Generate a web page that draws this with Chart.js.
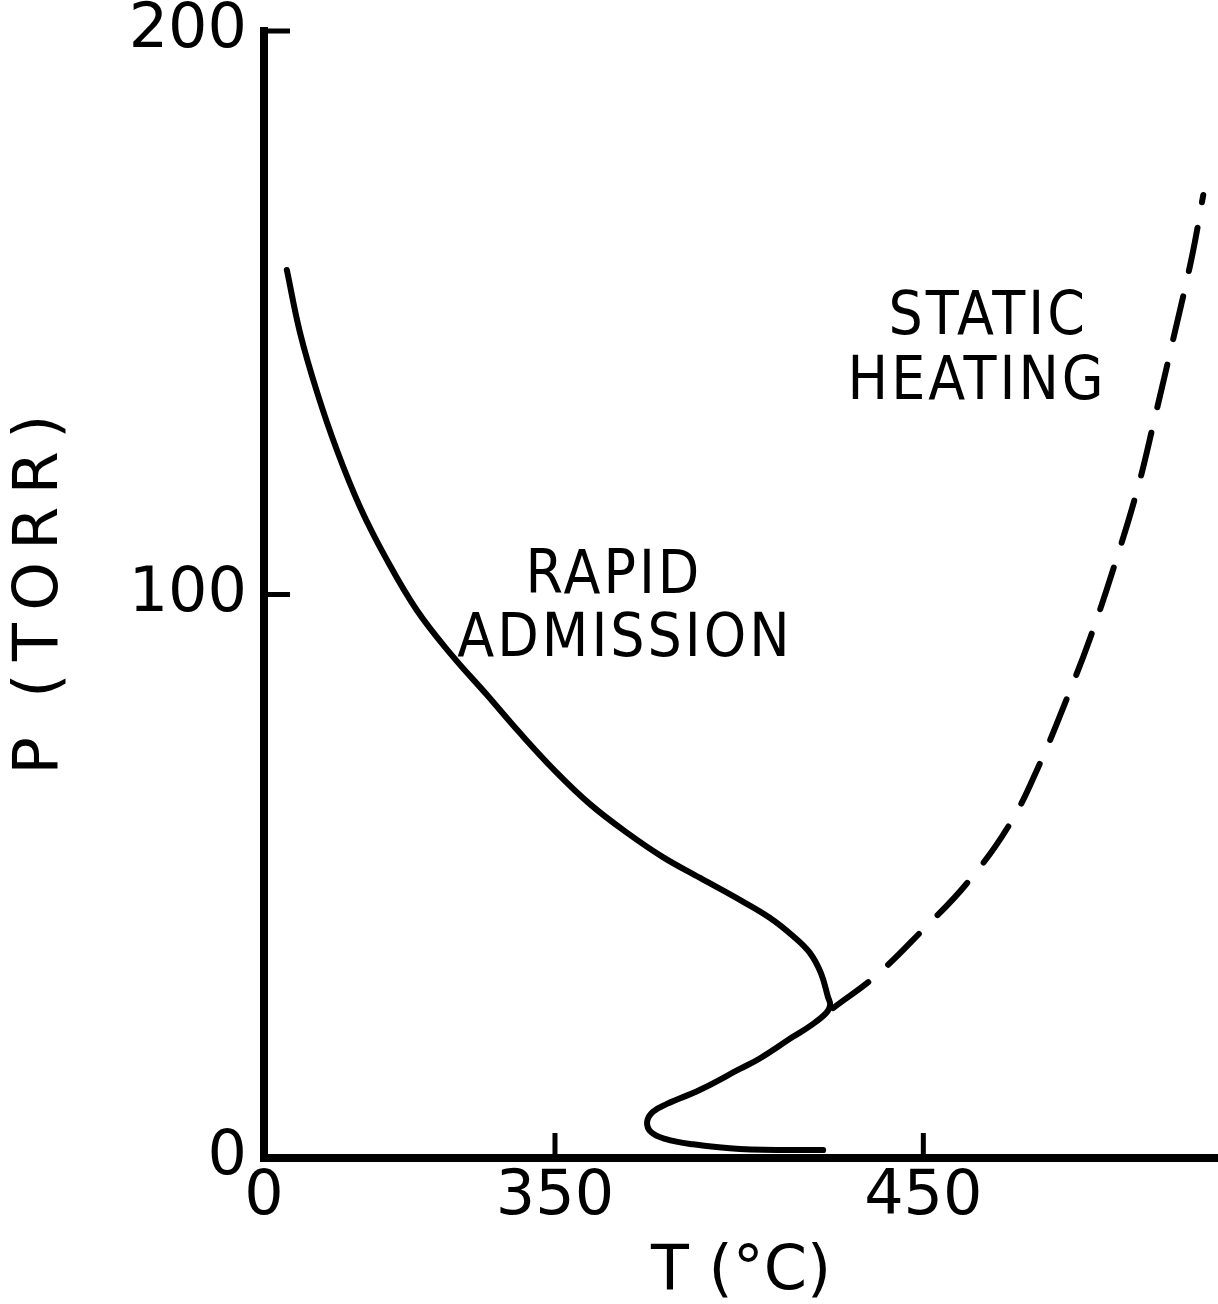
<!DOCTYPE html>
<html>
<head>
<meta charset="utf-8">
<script src="https://cdn.jsdelivr.net/npm/chart.js@4.4.1/dist/chart.umd.min.js"></script>
<style>
  html, body { margin: 0; padding: 0; background: #fff; }
</style>
</head>
<body>
<canvas id="chartCanvas" width="1218" height="1304"></canvas>
<script>
// Rapid admission curve (T in deg C, P in torr)
const rapidT = [277.2, 280.8, 285.4, 290.8, 297.1, 304.4, 312.5, 321.5, 331.5, 340.5,
    350.0, 359.5, 369.6, 379.3, 389.4, 400.2, 408.4, 414.6, 419.2, 422.2,
    424.1, 424.7, 423.6, 419.2, 414.6, 405.7, 400.2, 389.4, 380.4, 376.6,
    375.0, 376.1, 379.9, 386.7, 400.2, 422.8];
const rapidP = [157.6, 146.4, 135.9, 125.6, 115.5, 106.1, 97.2, 89.6, 82.2, 75.4,
    68.7, 62.8, 57.7, 53.4, 49.7, 45.8, 42.6, 39.4, 36.4, 32.8,
    28.6, 27.2, 25.7, 23.4, 21.5, 17.7, 15.8, 12.1, 9.6, 8.2,
    6.4, 4.6, 3.4, 2.5, 1.6, 1.4];

// Static heating curve (dashed)
const staticT = [425.5, 437.4, 449.9, 461.9, 473.6, 481.7, 489.0, 495.3, 502.1,
    508.3, 512.9, 517.8, 523.0, 526.0];
const staticP = [26.6, 32.5, 40.5, 48.8, 59.4, 70.1, 81.6, 92.3, 105.6,
    119.1, 131.5, 145.2, 160.2, 170.9];

// Axis ticks (x axis is broken: origin is labelled 0)
const xBreak = 271;
const xTickValues = [350, 450];
const yTickValues = [0, 100, 200];

function toPoints(xs, ys) {
    return xs.map((x, i) => ({ x: x, y: ys[i] }));
}

const tickFont = { family: 'DejaVu Sans', size: 62, lineHeight: 0.9 };

const axisPlugin = {
    id: 'axisPlugin',
    afterDatasetsDraw(chart) {
        const ctx = chart.ctx;
        const xs = chart.scales.x;
        const ys = chart.scales.y;
        const notes = [
            { text: 'RAPID', x: 366, y: 103.1 },
            { text: 'ADMISSION', x: 369, y: 91.9 },
            { text: 'STATIC', x: 467.6, y: 149 },
            { text: 'HEATING', x: 464.6, y: 137.4 }
        ];
        ctx.save();
        ctx.fillStyle = '#000';
        ctx.font = '60px "DejaVu Sans Condensed", "DejaVu Sans"';
        ctx.letterSpacing = '3px';
        ctx.textAlign = 'center';
        ctx.textBaseline = 'middle';
        notes.forEach(n => {
            ctx.fillText(n.text, xs.getPixelForValue(n.x), ys.getPixelForValue(n.y));
        });
        ctx.restore();
    },
    afterDraw(chart) {
        const ctx = chart.ctx;
        const area = chart.chartArea;
        const xs = chart.scales.x;
        const ys = chart.scales.y;
        ctx.save();
        ctx.strokeStyle = '#000';
        ctx.lineWidth = 8;
        ctx.lineCap = 'square';
        ctx.beginPath();
        ctx.moveTo(area.left, area.top);
        ctx.lineTo(area.left, area.bottom);
        ctx.lineTo(area.right, area.bottom);
        ctx.stroke();

        // inward tick marks
        ctx.lineWidth = 5;
        ctx.lineCap = 'butt';
        xTickValues.forEach(v => {
            const px = xs.getPixelForValue(v);
            ctx.beginPath();
            ctx.moveTo(px, area.bottom);
            ctx.lineTo(px, area.bottom - 25);
            ctx.stroke();
        });
        yTickValues.filter(v => v > 0).forEach(v => {
            const py = ys.getPixelForValue(v);
            ctx.beginPath();
            ctx.moveTo(area.left, py);
            ctx.lineTo(area.left + 26, py);
            ctx.stroke();
        });
        ctx.restore();
    }
};

new Chart(document.getElementById('chartCanvas'), {
    type: 'scatter',
    data: {
        datasets: [{
            label: 'Rapid admission',
            data: toPoints(rapidT, rapidP),
            showLine: true,
            borderColor: '#000',
            borderWidth: 6,
            borderCapStyle: 'round',
            pointRadius: 0,
            tension: 0.4,
            capBezierPoints: false,
            clip: false
        }, {
            label: 'Static heating',
            data: toPoints(staticT, staticP),
            showLine: true,
            borderColor: '#000',
            borderWidth: 6,
            borderCapStyle: 'round',
            borderDash: [44, 26],
            pointRadius: 0,
            tension: 0.4,
            capBezierPoints: false,
            clip: false
        }]
    },
    options: {
        responsive: false,
        animation: false,
        layout: { padding: { top: 31, right: 0, left: 0, bottom: 0 } },
        plugins: {
            legend: { display: false },
            tooltip: { enabled: false }
        },
        scales: {
            x: {
                type: 'linear',
                min: xBreak,
                max: 530,
                afterBuildTicks: scale => {
                    scale.ticks = [xBreak].concat(xTickValues).map(v => ({ value: v }));
                },
                afterFit: scale => {
                    scale.height = 146;
                    scale.paddingLeft = 0;
                    scale.paddingRight = 0;
                },
                grid: { display: false, drawTicks: false },
                border: { display: false },
                ticks: {
                    color: '#000',
                    font: tickFont,
                    padding: 12,
                    maxRotation: 0,
                    callback: v => (v === xBreak ? '0' : String(v))
                },
                title: {
                    display: true,
                    text: 'T (°C)',
                    color: '#000',
                    font: { family: 'DejaVu Sans', size: 62, lineHeight: 1.0 },
                    padding: { top: 0, bottom: 0 }
                }
            },
            y: {
                type: 'linear',
                min: 0,
                max: 200,
                afterBuildTicks: scale => {
                    scale.ticks = yTickValues.map(v => ({ value: v }));
                },
                afterFit: scale => {
                    scale.width = 264;
                    scale.paddingTop = 0;
                    scale.paddingBottom = 0;
                },
                grid: { display: false, drawTicks: false },
                border: { display: false },
                ticks: {
                    color: '#000',
                    font: tickFont,
                    padding: 17
                },
                title: {
                    display: true,
                    text: 'P  (\u2009T\u2009O\u2009R\u2009R\u2009)',
                    color: '#000',
                    font: { family: 'DejaVu Sans', size: 62, lineHeight: 1.2 },
                    padding: { top: 4, bottom: 0 }
                }
            }
        }
    },
    plugins: [axisPlugin]
});
</script>
</body>
</html>
